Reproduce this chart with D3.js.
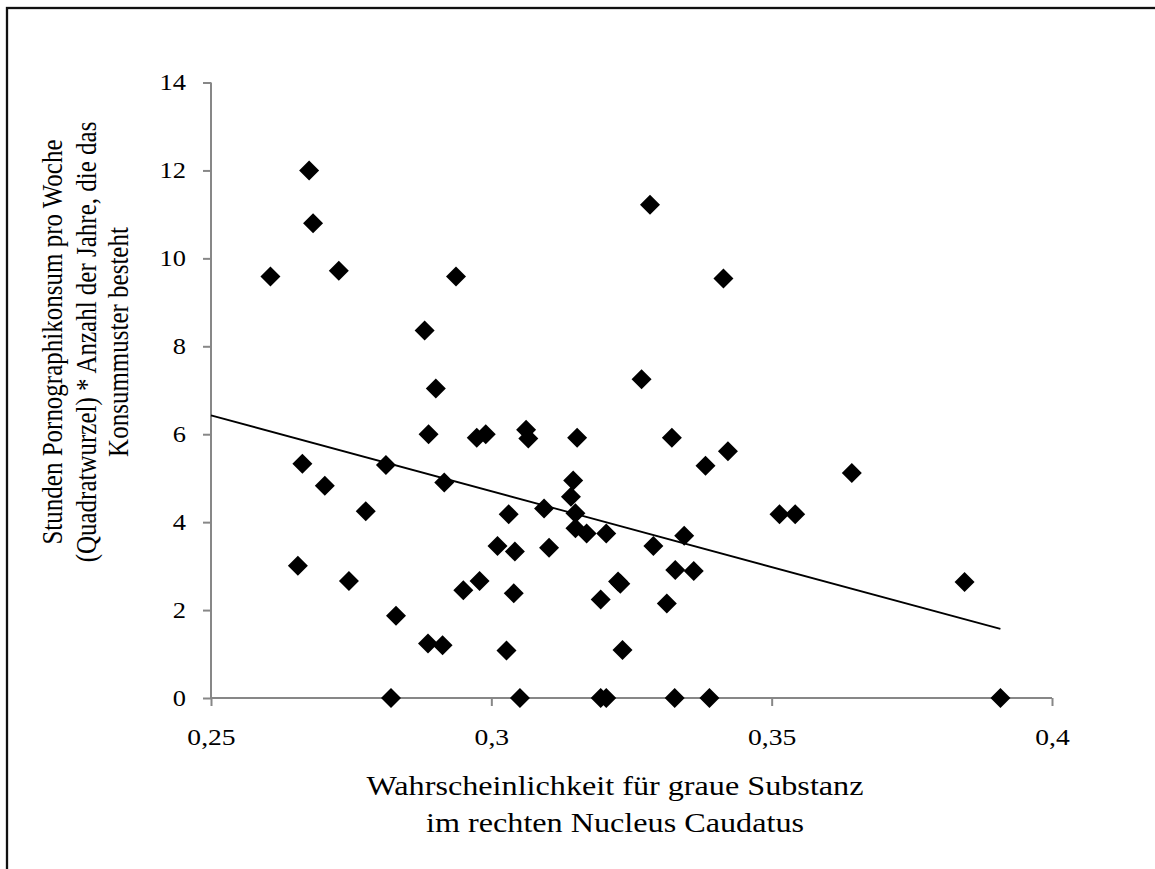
<!DOCTYPE html>
<html>
<head>
<meta charset="utf-8">
<script src="https://cdn.jsdelivr.net/npm/d3@7"></script>
<style>
  body { margin: 0; background: #fff; }
  text { font-family: "Liberation Serif", "Times New Roman", serif; fill: #000; }
</style>
</head>
<body>
<svg id="chart" width="1155" height="869"></svg>
<script>
'use strict'

// grey matter probability (x) and porn hours index (y)
const greyMatter = [
    0.2606, 0.2675, 0.2682, 0.2728, 0.2937, 0.2881, 0.2901, 0.2888, 0.2974, 0.2990,
    0.3062, 0.3066, 0.3153, 0.2663, 0.2812, 0.2703, 0.2916, 0.3146, 0.3142, 0.3094,
    0.3150, 0.2776, 0.3031, 0.3150, 0.3170, 0.3205, 0.3011, 0.3042, 0.3103, 0.2655,
    0.2746, 0.2979, 0.2950, 0.3040, 0.3195, 0.2830, 0.2887, 0.2913, 0.3027, 0.2821,
    0.3051, 0.3195, 0.3205, 0.3327, 0.3389, 0.3908, 0.3322, 0.3422, 0.3382, 0.3643,
    0.3514, 0.3542, 0.3344, 0.3289, 0.3328, 0.3361, 0.3226, 0.3230, 0.3313, 0.3844,
    0.3234, 0.3283, 0.3414, 0.3268
]
const hoursIndex = [
    9.59, 12.0, 10.8, 9.72, 9.59, 8.36, 7.04, 6.0, 5.92, 6.0,
    6.1, 5.90, 5.92, 5.33, 5.30, 4.83, 4.90, 4.95, 4.58, 4.31,
    4.20, 4.25, 4.18, 3.86, 3.74, 3.74, 3.46, 3.33, 3.42, 3.01,
    2.66, 2.66, 2.45, 2.38, 2.24, 1.87, 1.24, 1.20, 1.08, 0,
    0, 0, 0, 0, 0, 0, 5.92, 5.61, 5.28, 5.12,
    4.18, 4.18, 3.69, 3.46, 2.91, 2.89, 2.65, 2.60, 2.15, 2.64,
    1.09, 11.22, 9.54, 7.25
]

// linear trend line ends
const trendX = [0.25, 0.3908]
const trendY = [6.43, 1.57]

const xTicks = [0.25, 0.3, 0.35, 0.4]
const yTicks = [0, 2, 4, 6, 8, 10, 12, 14]

const yTitle = [
    'Stunden Pornographikonsum pro Woche',
    '(Quadratwurzel) *  Anzahl der Jahre, die das',
    'Konsummuster besteht'
]
const xTitle = [
    'Wahrscheinlichkeit für graue Substanz',
    'im rechten Nucleus Caudatus'
]

const stretch = 1.15   // the original picture is a bit wider than tall
const axisGrey = '#878787'

const svg = d3.select('#chart')

// outer frame, only left and top edges are visible
svg.append('rect')
    .attr('x', 7).attr('y', 8)
    .attr('width', 1300).attr('height', 1000)
    .attr('fill', 'none')
    .attr('stroke', '#111')
    .attr('stroke-width', 2.3)

const x = d3.scaleLinear().domain([0.25, 0.4]).range([211, 1052])
const y = d3.scaleLinear().domain([0, 14]).range([698, 82.5])

const comma = d => String(d).replace('.', ',')

// y axis
const yAxis = svg.append('g')
    .attr('transform', 'translate(' + x(0.25) + ',0)')
    .call(d3.axisLeft(y).tickValues(yTicks).tickSize(8).tickPadding(17).tickFormat(comma))
yAxis.select('.domain').remove()
yAxis.append('line')
    .attr('y1', y(14)).attr('y2', y(0))
    .attr('stroke', axisGrey).attr('stroke-width', 2)
yAxis.selectAll('.tick line').attr('stroke', axisGrey).attr('stroke-width', 2)
yAxis.selectAll('.tick text')
    .style('font-size', '23px')
    .each(function () {
        const t = d3.select(this)
        t.attr('x', +t.attr('x') / stretch).attr('transform', 'scale(' + stretch + ',1)')
    })

// x axis
const xAxis = svg.append('g')
    .attr('transform', 'translate(0,' + y(0) + ')')
    .call(d3.axisBottom(x).tickValues(xTicks).tickSize(8).tickPadding(22).tickFormat(comma))
xAxis.select('.domain').remove()
xAxis.append('line')
    .attr('x1', x(0.25)).attr('x2', x(0.4))
    .attr('stroke', axisGrey).attr('stroke-width', 2)
xAxis.selectAll('.tick line').attr('stroke', axisGrey).attr('stroke-width', 2)
xAxis.selectAll('.tick text')
    .style('font-size', '24px')
    .attr('transform', 'scale(' + stretch + ',1)')

// trend line
svg.append('line')
    .attr('x1', x(trendX[0])).attr('y1', y(trendY[0]))
    .attr('x2', x(trendX[1])).attr('y2', y(trendY[1]))
    .attr('stroke', '#000')
    .attr('stroke-width', 1.8)

// diamonds
const diamond = d3.symbol().type(d3.symbolSquare).size(200)
svg.append('g')
    .selectAll('path')
    .data(greyMatter)
    .join('path')
    .attr('d', diamond)
    .attr('fill', '#000')
    .attr('transform', (d, i) => 'translate(' + x(d) + ',' + y(hoursIndex[i]) + ') rotate(45)')

// y title, three lines rotated
const yt = svg.append('g')
    .attr('transform', 'translate(0,342) scale(1.2,1) rotate(-90)')
yt.selectAll('text')
    .data(yTitle)
    .join('text')
    .attr('text-anchor', 'middle')
    .attr('x', 0)
    .attr('y', (d, i) => [62, 96, 128][i] / 1.2)
    .style('font-size', '25px')
    .text(d => d)

// x title
const xt = svg.append('g')
    .attr('transform', 'translate(615,0) scale(' + stretch + ',1)')
xt.selectAll('text')
    .data(xTitle)
    .join('text')
    .attr('text-anchor', 'middle')
    .attr('x', 0)
    .attr('y', (d, i) => 795 + i * 37)
    .style('font-size', '28px')
    .text(d => d)
</script>
</body>
</html>
